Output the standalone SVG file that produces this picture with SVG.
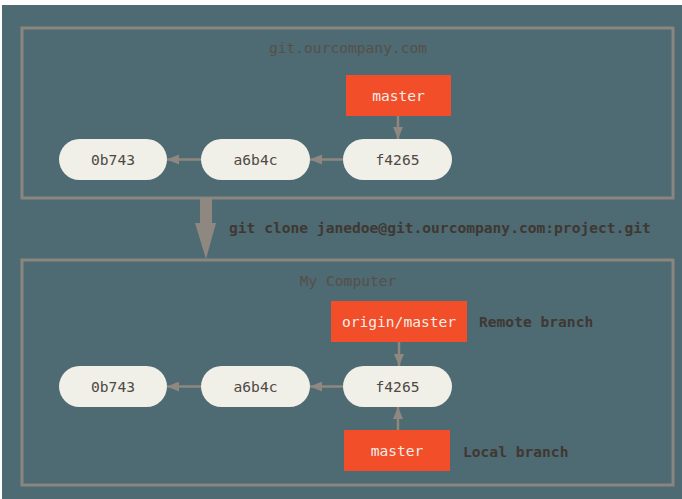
<svg xmlns="http://www.w3.org/2000/svg" width="682" height="499" viewBox="0 0 682 499">
  <defs>
    <style>
      .frame { fill: none; stroke: #8b857f; stroke-width: 3; }
      .title { font-family: "DejaVu Sans Mono", "Liberation Mono", monospace; font-size: 14.6px; fill: #574f49; text-anchor: middle; dominant-baseline: central; }
      .pill { fill: #f0efe8; }
      .pilltext { font-family: "DejaVu Sans Mono", "Liberation Mono", monospace; font-size: 14.6px; fill: #4f4944; text-anchor: middle; dominant-baseline: central; }
      .branch { fill: #f24e2a; }
      .branchtext { font-family: "DejaVu Sans Mono", "Liberation Mono", monospace; font-size: 14.6px; fill: #f5ede6; text-anchor: middle; dominant-baseline: central; }
      .label { font-family: "DejaVu Sans Mono", "Liberation Mono", monospace; font-size: 14.6px; font-weight: bold; fill: #3f3832; dominant-baseline: central; }
      .conn { stroke: #8f8881; stroke-width: 2.5; fill: none; marker-end: url(#arrow); }
    </style>
    <marker id="arrow" viewBox="0 0 12 10" refX="12" refY="5" markerWidth="12" markerHeight="10" markerUnits="userSpaceOnUse" orient="auto">
      <path d="M0,0 L12,5 L0,10 z" fill="#8f8881"/>
    </marker>
  </defs>
  <rect x="0" y="0" width="682" height="499" fill="#ffffff"/>
  <rect x="2" y="5" width="680" height="494" fill="#4e6a72"/>

  <g id="server">
    <rect class="frame" x="22" y="28" width="651" height="170"/>
    <text class="title" x="348" y="47">git.ourcompany.com</text>
  </g>
  <g id="server-master">
    <rect class="branch" x="346" y="75" width="105" height="41"/>
    <text class="branchtext" x="398.5" y="95.5">master</text>
  </g>
  <g id="server-0b743">
    <rect class="pill" x="59" y="139" width="108" height="41" rx="20.5"/>
    <text class="pilltext" x="113" y="159.5">0b743</text>
  </g>
  <g id="server-a6b4c">
    <rect class="pill" x="201" y="139" width="109" height="41" rx="20.5"/>
    <text class="pilltext" x="255.5" y="159.5">a6b4c</text>
  </g>
  <g id="server-f4265">
    <rect class="pill" x="343" y="139" width="109" height="41" rx="20.5"/>
    <text class="pilltext" x="397.5" y="159.5">f4265</text>
  </g>

  <g id="computer">
    <rect class="frame" x="22" y="260" width="651" height="225"/>
    <text class="title" x="348" y="280">My Computer</text>
  </g>
  <g id="origin-master">
    <rect class="branch" x="331" y="301" width="136" height="41"/>
    <text class="branchtext" x="399" y="321.5">origin/master</text>
  </g>
  <g id="remote-label">
    <text class="label" x="479" y="321">Remote branch</text>
  </g>
  <g id="local-0b743">
    <rect class="pill" x="59" y="366" width="108" height="41" rx="20.5"/>
    <text class="pilltext" x="113" y="386.5">0b743</text>
  </g>
  <g id="local-a6b4c">
    <rect class="pill" x="201" y="366" width="109" height="41" rx="20.5"/>
    <text class="pilltext" x="255.5" y="386.5">a6b4c</text>
  </g>
  <g id="local-f4265">
    <rect class="pill" x="343" y="366" width="109" height="41" rx="20.5"/>
    <text class="pilltext" x="397.5" y="386.5">f4265</text>
  </g>
  <g id="local-master">
    <rect class="branch" x="344" y="430" width="106" height="41"/>
    <text class="branchtext" x="397" y="450.5">master</text>
  </g>
  <g id="local-label">
    <text class="label" x="463" y="451">Local branch</text>
  </g>

  <g id="clone-label">
    <text class="label" x="229" y="227">git clone janedoe@git.ourcompany.com:project.git</text>
  </g>

  <g id="connectors">
    <line class="conn" x1="398" y1="116" x2="398" y2="139"/>
    <line class="conn" x1="343" y1="159.5" x2="310" y2="159.5"/>
    <line class="conn" x1="201" y1="159.5" x2="167" y2="159.5"/>
    <line class="conn" x1="399" y1="342" x2="399" y2="366"/>
    <line class="conn" x1="343" y1="386.5" x2="310" y2="386.5"/>
    <line class="conn" x1="201" y1="386.5" x2="167" y2="386.5"/>
    <line class="conn" x1="398" y1="430" x2="398" y2="407"/>
    <path d="M200,198 L212,198 L212,223 L216,223 L206,259 L195,223 L200,223 Z" fill="#8f8881"/>
  </g>
</svg>
